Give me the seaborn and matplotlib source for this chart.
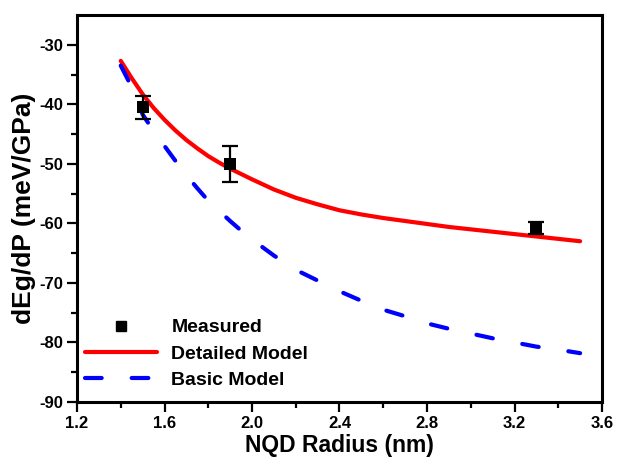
import matplotlib
matplotlib.use("Agg")
import matplotlib.pyplot as plt
from matplotlib.lines import Line2D
import seaborn as sns
import pandas as pd

# Measured pressure coefficients with uncertainties
meas_radius = [1.5, 1.9, 3.3]
meas_dEg = [-40.5, -50.0, -60.8]
meas_err = [1.9, 3.0, 1.0]

# Detailed model curve
det_radius = [1.40, 1.45, 1.50, 1.55, 1.60, 1.65, 1.70, 1.75, 1.80, 1.85, 1.90,
              1.95, 2.00, 2.10, 2.20, 2.30, 2.40, 2.50, 2.60, 2.70, 2.80, 2.90,
              3.00, 3.10, 3.20, 3.30, 3.40, 3.50]
det_dEg = [-32.7, -35.6, -38.3, -40.6, -42.6, -44.4, -46.0, -47.4, -48.7, -49.8,
           -50.8, -51.7, -52.6, -54.3, -55.7, -56.8, -57.8, -58.5, -59.1, -59.6,
           -60.1, -60.6, -61.0, -61.4, -61.8, -62.2, -62.6, -63.0]

# Basic model curve
bas_radius = [1.40, 1.45, 1.50, 1.55, 1.60, 1.65, 1.70, 1.75, 1.80, 1.85, 1.90,
              1.95, 2.00, 2.10, 2.20, 2.30, 2.40, 2.50, 2.60, 2.70, 2.80, 2.90,
              3.00, 3.10, 3.20, 3.30, 3.40, 3.50]
bas_dEg = [-33.5, -37.1, -41.7, -44.5, -47.0, -49.5, -51.9, -54.1, -56.2, -57.9,
           -59.6, -61.2, -62.7, -65.4, -67.8, -69.6, -71.4, -73.0, -74.5, -75.6,
           -76.8, -77.7, -78.5, -79.3, -80.0, -80.7, -81.2, -81.8]

x_ticks = [1.2, 1.6, 2.0, 2.4, 2.8, 3.2, 3.6]
y_ticks = [-90, -80, -70, -60, -50, -40, -30]

sns.set_style("ticks")
plt.rcParams["font.family"] = ["Liberation Sans", "DejaVu Sans"]
plt.rcParams["font.weight"] = "bold"
plt.rcParams["axes.unicode_minus"] = False
plt.rcParams["text.color"] = "black"
plt.rcParams["axes.labelcolor"] = "black"
plt.rcParams["xtick.color"] = "black"
plt.rcParams["ytick.color"] = "black"

fig = plt.figure(figsize=(6.19, 4.59), dpi=100)
ax = fig.add_axes([77 / 619, 1 - 402 / 459, 525 / 619, 387 / 459])

det = pd.DataFrame({"r": det_radius, "d": det_dEg})
bas = pd.DataFrame({"r": bas_radius, "d": bas_dEg})
meas = pd.DataFrame({"r": meas_radius, "d": meas_dEg, "e": meas_err})

dash = (4.0, 7.2)
sns.lineplot(data=det, x="r", y="d", ax=ax, color="#ff0000", lw=3.0,
             sort=True, estimator=None, zorder=2)
ax.lines[-1].set_solid_capstyle("round")
ax.lines[-1].set_solid_joinstyle("round")
sns.lineplot(data=bas, x="r", y="d", ax=ax, color="#0000ff", lw=3.0,
             sort=True, estimator=None, zorder=2)
ax.lines[-1].set_dashes(dash)
ax.lines[-1].set_dash_capstyle("round")

ax.errorbar(meas["r"], meas["d"], yerr=meas["e"], fmt="none", ecolor="black",
            elinewidth=1.6, capsize=6, capthick=1.6, zorder=3)
sns.scatterplot(data=meas, x="r", y="d", ax=ax, marker="s", s=75, color="black",
                edgecolor="black", linewidth=0, zorder=4)

ax.set_xlim(1.2, 3.6)
ax.set_ylim(-90, -25)
ax.set_xticks(x_ticks)
ax.set_xticklabels([f"{v:.1f}" for v in x_ticks])
ax.set_yticks(y_ticks)
ax.set_yticklabels([str(v) for v in y_ticks])
ax.set_xticks([1.4, 1.8, 2.2, 2.6, 3.0, 3.4], minor=True)
ax.set_yticks([-85, -75, -65, -55, -45, -35], minor=True)

for s in ax.spines.values():
    s.set_linewidth(2.2)
    s.set_color("black")
    s.set_visible(True)
ax.tick_params(which="major", direction="out", length=7, width=1.6,
               labelsize=12, pad=3, top=False, right=False, colors="black")
ax.tick_params(which="minor", direction="out", length=4, width=1.6,
               top=False, right=False, colors="black")
for lab in ax.get_xticklabels() + ax.get_yticklabels():
    lab.set_fontweight("bold")

ax.set_xlabel("NQD Radius (nm)", fontsize=16.5, fontweight="bold", labelpad=2)
ax.set_ylabel("dEg/dP (meV/GPa)", fontsize=19, fontweight="bold", labelpad=2)

handles = [
    Line2D([], [], ls="none", marker="s", color="black", markersize=7.5),
    Line2D([], [], color="#ff0000", lw=3.0, solid_capstyle="round"),
    Line2D([], [], color="#0000ff", lw=3.0, dashes=dash, dash_capstyle="round"),
]
ax.legend(handles, ["Measured", "Detailed Model", "Basic Model"],
          loc="upper left", bbox_to_anchor=(0.015, 0.215), frameon=False,
          borderpad=0, borderaxespad=0, handlelength=3.7, handletextpad=0.75,
          labelspacing=0.45, prop={"size": 14, "weight": "bold"})

fig.savefig("out.png", dpi=100)
